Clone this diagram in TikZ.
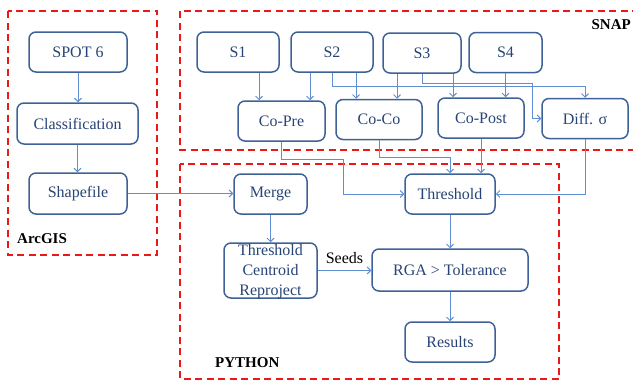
\documentclass[tikz,border=0pt]{standalone}
\usepackage{fontspec}
\setmainfont{Liberation Serif}
\usetikzlibrary{arrows.meta}
\definecolor{boxdraw}{RGB}{62,98,150}
\definecolor{boxtext}{RGB}{40,68,118}
\definecolor{arrcol}{RGB}{95,142,210}
\definecolor{redash}{RGB}{236,24,24}
\tikzset{
  box/.style={draw=boxdraw, line width=1.5pt, rounded corners=7pt, text=boxtext,
    font=\fontsize{16}{20}\selectfont, inner sep=0pt, fill=white},
  arr/.style={draw=arrcol, line width=0.9pt, -{Straight Barb[length=3.5pt,width=7pt]}},
  zone/.style={draw=redash, line width=1.8pt, dash pattern=on 7pt off 4.5pt},
  zonelabel/.style={font=\fontsize{15}{18}\selectfont\bfseries, text=black, inner sep=0pt},
}
\begin{document}
\begin{tikzpicture}[x=1pt,y=-1pt]
\useasboundingbox (0,0) rectangle (633,380);
\clip (0,0) rectangle (633,380);
% zones
\draw[zone] (8,11) rectangle (157,255);
\draw[zone] (180,11) rectangle (650,150);
\draw[zone] (180,164) rectangle (559,379);
\node[zonelabel, anchor=east] (snaplab) at (631,24.5) {SNAP};
\node[zonelabel, anchor=west] (arclab) at (17,239) {ArcGIS};
\node[zonelabel, anchor=west] (pylab) at (215,362.5) {PYTHON};
% ArcGIS boxes
\node[box, minimum width=98, minimum height=40] (spot) at (78,52) {SPOT 6};
\node[box, minimum width=121, minimum height=41] (class) at (77.5,123.5) {Classification};
\node[box, minimum width=98, minimum height=41] (shape) at (78,193.5) {Shapefile};
% SNAP boxes
\node[box, minimum width=82, minimum height=40] (s1) at (238,52) {S1};
\node[box, minimum width=82, minimum height=40] (s2) at (332,52) {S2};
\node[box, minimum width=78, minimum height=40] (s3) at (422,53) {S3};
\node[box, minimum width=73, minimum height=40] (s4) at (505.5,52.5) {S4};
\node[box, minimum width=87, minimum height=40] (copre) at (281.5,121) {Co-Pre};
\node[box, minimum width=86, minimum height=40] (coco) at (379,119.5) {Co-Co};
\node[box, minimum width=86, minimum height=40] (copost) at (481,118) {Co-Post};
\node[box, minimum width=86, minimum height=40] (diff) at (585,118.5) {Diff. σ};
% Python boxes
\node[box, minimum width=73, minimum height=40] (merge) at (270.5,194) {Merge};
\node[box, minimum width=90, minimum height=40] (thr) at (450,194) {Threshold};
\node[box, minimum width=93, minimum height=55] (tcr) at (270.5,270.5) {};
\node[text=boxtext, font=\fontsize{16}{20}\selectfont, align=center, inner sep=0pt] (tcrtext) at (270.5,272) {Threshold\\Centroid\\Reproject};
\node[box, minimum width=156, minimum height=42] (rga) at (450,270) {RGA > Tolerance};
\node[box, minimum width=90, minimum height=40] (res) at (450,342) {Results};
% ArcGIS connectors
\draw[arr] (spot.south) -- (spot.south |- class.north);
\draw[arr] (class.south) -- (class.south |- shape.north);
\draw[arr] (shape.east) -- (shape.east -| merge.west);
% SNAP connectors
\draw[arr] ([xshift=21pt]s1.south) -- ([xshift=21pt]s1.south |- copre.north);
\draw[arr] ([xshift=-22pt]s2.south) -- ([xshift=-22pt]s2.south |- copre.north);
\draw[arr] ([xshift=24pt]s2.south) -- ([xshift=24pt]s2.south |- coco.north);
\draw[arr] (s2.south) -- ++(0,14) -| (diff.north);
\draw[arr] ([xshift=-25pt]s3.south) -- ([xshift=-25pt]s3.south |- coco.north);
\draw[arr] ([xshift=31pt]s3.south) -- ([xshift=31pt]s3.south |- copost.north);
\draw[arr] (s3.south) -- ++(0,10) -| ([xshift=-9pt]diff.west) -- (diff.west);
\draw[arr] (s4.south) -- (s4.south |- copost.north);
% to threshold
\draw[arr] (copre.south) -- ++(0,18) -- ++(61.5,0) |- (thr.west);
\draw[arr] (coco.south) -- ++(0,17.5) -| (thr.north);
\draw[arr] (copost.south) -- (copost.south |- thr.north);
\draw[arr] (diff.south) |- (thr.east);
% python connectors
\draw[arr] (merge.south) -- (tcr.north);
\draw[arr] (tcr.east) -- (tcr.east -| rga.west) node[midway, yshift=12pt, text=black, font=\fontsize{16}{18}\selectfont, inner sep=0pt] (seeds) {Seeds};
\draw[arr] (thr.south) -- (rga.north);
\draw[arr] (rga.south) -- (res.north);
\end{tikzpicture}
\end{document}
